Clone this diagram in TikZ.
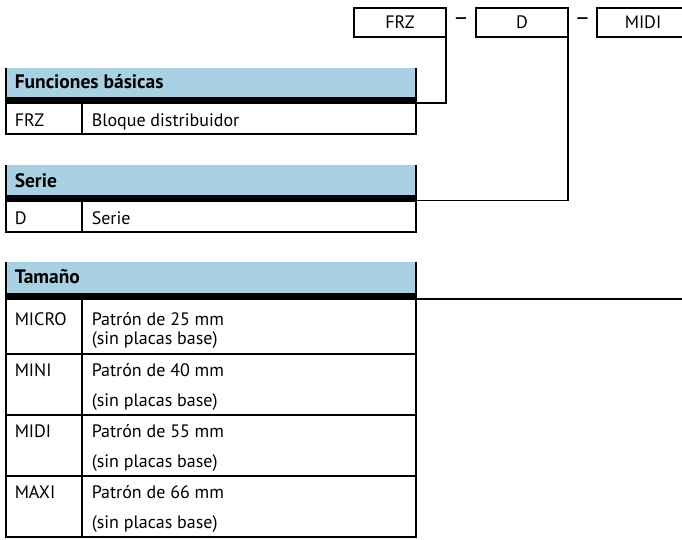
\documentclass[tikz,border=0pt]{standalone}
\usepackage{fontspec}
\setmainfont{PT Sans}
\definecolor{hdr}{RGB}{168,210,227}
\begin{document}
\begin{tikzpicture}[x=1pt,y=-1pt,line width=1.5pt,line join=miter,
  fnt/.style={font=\fontsize{18}{21}\selectfont},
  txt/.style={fnt,anchor=base west,inner sep=0pt},
  hd/.style={txt,font=\fontsize{19.5}{22}\selectfont\bfseries},
  topbox/.style={fnt,draw,minimum width=92pt,minimum height=29pt,inner sep=0pt,outer sep=0pt},
  sepmark/.style={font=\fontsize{24}{26}\selectfont,inner sep=0pt}]
\useasboundingbox (0,0) rectangle (682,540);
\clip (0,0) rectangle (682,540);

% top code boxes
\node[topbox] (frz) at (400,22.5) {FRZ};
\node[topbox] (ser) at (522,22.5) {D};
\node[topbox] (siz) at (643,22.5) {MIDI};
\node[sepmark] (d1) at (461,21.5) {–};
\node[sepmark] (d2) at (582.5,21.5) {–};

% table 1
\fill[hdr] (6,68) rectangle (416,98);
\fill (6,97.5) rectangle (416,104.5);
\draw (6,68) -- (6,134) -- (416,134) -- (416,68);
\draw (82,104) -- (82,134);
\node[hd] (h1) at (14,89) {Funciones básicas};
\node[txt] (c1) at (14,127) {FRZ};
\node[txt] (e1) at (91,127) {Bloque distribuidor};
\coordinate (t1) at (416,103);

% table 2
\fill[hdr] (6,165) rectangle (416,195);
\fill (6,194.5) rectangle (416,201.5);
\draw (6,165) -- (6,232) -- (416,232) -- (416,165);
\draw (82,201) -- (82,232);
\node[hd] (h2) at (14,188) {Serie};
\node[txt] (c2) at (14,224) {D};
\node[txt] (e2) at (91,224) {Serie};
\coordinate (t2) at (416,200.5);

% table 3
\fill[hdr] (6,262) rectangle (416,293);
\fill (6,292.5) rectangle (416,299.5);
\draw (6,262) -- (6,537) -- (416,537) -- (416,262);
\draw (82,299) -- (82,537);
\draw (6,354) -- (416,354);
\draw (6,415) -- (416,415);
\draw (6,476) -- (416,476);
\node[hd] (h3) at (14,283) {Tamaño};
\node[txt] (c3) at (14,325) {MICRO};
\node[txt] (e3a) at (91,325) {Patrón de 25 mm};
\node[txt] (e3b) at (91,344) {(sin placas base)};
\node[txt] (c4) at (14,376) {MINI};
\node[txt] (e4a) at (91,376) {Patrón de 40 mm};
\node[txt] (e4b) at (91,406) {(sin placas base)};
\node[txt] (c5) at (14,437) {MIDI};
\node[txt] (e5a) at (91,437) {Patrón de 55 mm};
\node[txt] (e5b) at (91,467) {(sin placas base)};
\node[txt] (c6) at (14,498) {MAXI};
\node[txt] (e6a) at (91,498) {Patrón de 66 mm};
\node[txt] (e6b) at (91,528) {(sin placas base)};
\coordinate (t3) at (416,299);

% connectors
\draw (frz.south east) |- (t1);
\draw (ser.south east) |- (t2);
\draw (siz.south east) |- (t3);
\end{tikzpicture}
\end{document}
